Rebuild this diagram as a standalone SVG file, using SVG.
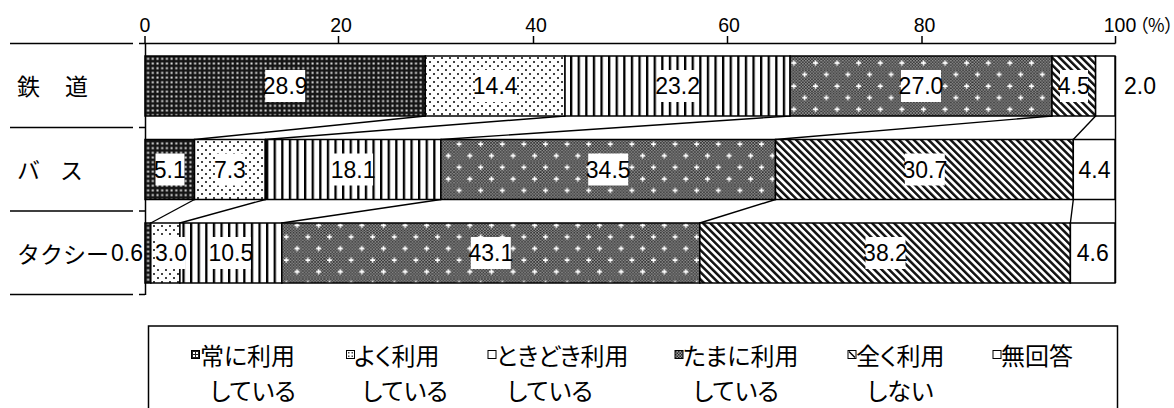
<svg xmlns="http://www.w3.org/2000/svg" width="1174" height="408" viewBox="0 0 1174 408">
<style>
.num{font-family:"Liberation Sans Narrow","Liberation Sans",Arial,sans-serif;font-size:23px;text-anchor:middle;fill:#000}
.ax{font-family:"Liberation Sans",Arial,sans-serif;font-size:19.5px;text-anchor:middle;fill:#000}
.cat{font-family:"Noto Sans CJK JP",sans-serif;font-size:23px;fill:#000}
.lg{font-family:"Noto Sans CJK JP",sans-serif;font-size:24px;fill:#000;font-feature-settings:"palt"}
.bar rect.seg{stroke:#000;stroke-width:1.5}
.box{fill:#fff}
.ln{stroke:#000;stroke-width:1.5;fill:none}
.conn line{stroke:#000;stroke-width:1.4}
.mk{stroke:#000;stroke-width:1}
</style>
<defs>
<pattern id="p1" width="4.7" height="4.7" patternUnits="userSpaceOnUse">
<rect width="4.7" height="4.7" fill="#151515"/><rect x="1.4" y="1.4" width="2" height="2" fill="#e0e0e0"/>
</pattern>
<pattern id="p2" width="8" height="8" patternUnits="userSpaceOnUse">
<rect width="8" height="8" fill="#fff"/><rect x="1" y="1" width="2" height="2" fill="#444"/><rect x="5" y="5" width="2" height="2" fill="#444"/>
</pattern>
<pattern id="p3" width="7.6" height="10" patternUnits="userSpaceOnUse">
<rect width="7.6" height="10" fill="#fff"/><rect x="0" y="0" width="2.3" height="10" fill="#000"/>
</pattern>
<pattern id="p4b" width="3" height="3" patternUnits="userSpaceOnUse">
<rect width="3" height="3" fill="#9a9a9a"/><rect width="1.5" height="1.5" fill="#2a2a2a"/><rect x="1.5" y="1.5" width="1.5" height="1.5" fill="#2a2a2a"/>
</pattern>
<pattern id="p4" width="21.6" height="23.2" patternUnits="userSpaceOnUse">
<rect width="21.6" height="23.2" fill="url(#p4b)"/>
<path d="M3 5h5M5.5 2.5v5M13.8 16.6h5M16.3 14.1v5" stroke="#fff" stroke-width="1.6"/>
</pattern>
<pattern id="p5" width="5.2" height="10" patternUnits="userSpaceOnUse" patternTransform="rotate(-45)">
<rect width="5.2" height="10" fill="#fff"/><rect x="0" y="0" width="2.5" height="10" fill="#111"/>
</pattern>
</defs>
<rect width="1174" height="408" fill="#fff"/>

<g id="axes">
<line class="ln" x1="145" y1="43.5" x2="1115.5" y2="43.5"/>
<line class="ln" x1="145.5" y1="43" x2="145.5" y2="295"/>
<path class="ln" d="M145 36V43.5M338.5 36V43.5M533.5 36V43.5M727.5 36V43.5M922 36V43.5M1115.5 36V43.5"/>
<path class="ln" d="M139 43.5H145M139 127.5H145M139 211H145M139 294.5H145"/>
<path class="ln" d="M10 43.5H133M10 127.5H133M10 211H133M10 294.5H133" stroke-width="2"/>
<text class="ax" x="145" y="32.3">0</text>
<text class="ax" x="341" y="32.3">20</text>
<text class="ax" x="536" y="32.3">40</text>
<text class="ax" x="729" y="32.3">60</text>
<text class="ax" x="924.5" y="32.3">80</text>
<text class="ax" x="1120" y="32.3">100</text>
<text x="1139" y="31.5" style="font-family:'Noto Sans CJK JP',sans-serif;font-size:18px;font-feature-settings:'palt'">（%）</text>
<line class="ln" x1="1115.5" y1="56" x2="1115.5" y2="283"/>
</g>

<g id="cat-labels">
<text class="cat" x="17 41 65" y="94.5">鉄　道</text>
<text class="cat" x="17 38 60" y="178.5">バ　ス</text>
<text class="cat" x="17 40 63 86" y="262.5">タクシー</text>
</g>

<g id="connectors" class="conn">
<line x1="425.3" y1="116" x2="194.5" y2="139.5"/>
<line x1="565" y1="116" x2="265.3" y2="139.5"/>
<line x1="790.1" y1="116" x2="440.9" y2="139.5"/>
<line x1="1052" y1="116" x2="775.5" y2="139.5"/>
<line x1="1095.6" y1="116" x2="1073.3" y2="139.5"/>
<line x1="194.5" y1="199.5" x2="150.8" y2="223"/>
<line x1="265.3" y1="199.5" x2="179.9" y2="223"/>
<line x1="440.9" y1="199.5" x2="281.8" y2="223"/>
<line x1="775.5" y1="199.5" x2="699.8" y2="223"/>
<line x1="1073.3" y1="199.5" x2="1070.4" y2="223"/>
</g>

<g id="bar-rail" class="bar">
<rect class="seg" x="145" y="56" width="280.3" height="60" fill="url(#p1)"/>
<rect class="seg" x="425.3" y="56" width="139.7" height="60" fill="url(#p2)"/>
<rect class="seg" x="565" y="56" width="225.1" height="60" fill="url(#p3)"/>
<rect class="seg" x="790.1" y="56" width="261.9" height="60" fill="url(#p4)"/>
<rect class="seg" x="1052" y="56" width="43.6" height="60" fill="url(#p5)"/>
<rect class="seg" x="1095.6" y="56" width="19.4" height="60" fill="#fff"/>
<rect class="box" x="265.2" y="70" width="40" height="32"/><text class="num" x="285.2" y="94">28.9</text>
<rect class="box" x="475.2" y="70" width="40" height="32"/><text class="num" x="495.2" y="94">14.4</text>
<rect class="box" x="657.6" y="70" width="40" height="32"/><text class="num" x="677.6" y="94">23.2</text>
<rect class="box" x="901" y="70" width="40" height="32"/><text class="num" x="921" y="94">27.0</text>
<rect class="box" x="1060" y="70" width="28" height="32"/><text class="num" x="1073.8" y="94">4.5</text>
<text class="num" x="1140" y="94">2.0</text>
</g>

<g id="bar-bus" class="bar">
<rect class="seg" x="145" y="139.5" width="49.5" height="60" fill="url(#p1)"/>
<rect class="seg" x="194.5" y="139.5" width="70.8" height="60" fill="url(#p2)"/>
<rect class="seg" x="265.3" y="139.5" width="175.6" height="60" fill="url(#p3)"/>
<rect class="seg" x="440.9" y="139.5" width="334.6" height="60" fill="url(#p4)"/>
<rect class="seg" x="775.5" y="139.5" width="297.8" height="60" fill="url(#p5)"/>
<rect class="seg" x="1073.3" y="139.5" width="41.7" height="60" fill="#fff"/>
<rect class="box" x="155.5" y="153.5" width="29" height="32"/><text class="num" x="169.8" y="177.5">5.1</text>
<rect class="box" x="215.5" y="153.5" width="29" height="32"/><text class="num" x="229.9" y="177.5">7.3</text>
<rect class="box" x="333.1" y="153.5" width="40" height="32"/><text class="num" x="353.1" y="177.5">18.1</text>
<rect class="box" x="588.2" y="153.5" width="40" height="32"/><text class="num" x="608.2" y="177.5">34.5</text>
<rect class="box" x="904.8" y="153.5" width="40" height="32"/><text class="num" x="924.8" y="177.5">30.7</text>
<text class="num" x="1094.5" y="177.5">4.4</text>
</g>

<g id="bar-taxi" class="bar">
<rect class="seg" x="145" y="223" width="5.8" height="60" fill="url(#p1)"/>
<rect class="seg" x="150.8" y="223" width="29.1" height="60" fill="url(#p2)"/>
<rect class="seg" x="179.9" y="223" width="101.9" height="60" fill="url(#p3)"/>
<rect class="seg" x="281.8" y="223" width="418" height="60" fill="url(#p4)"/>
<rect class="seg" x="699.8" y="223" width="370.6" height="60" fill="url(#p5)"/>
<rect class="seg" x="1070.4" y="223" width="44.6" height="60" fill="#fff"/>
<text class="num" x="127" y="261">0.6</text>
<rect class="box" x="156.5" y="237" width="29" height="32"/><text class="num" x="171" y="261">3.0</text>
<rect class="box" x="210.8" y="237" width="40" height="32"/><text class="num" x="230.8" y="261">10.5</text>
<rect class="box" x="470.8" y="237" width="40" height="32"/><text class="num" x="490.8" y="261">43.1</text>
<rect class="box" x="865.5" y="237" width="40" height="32"/><text class="num" x="885.5" y="261">38.2</text>
<text class="num" x="1092.7" y="261">4.6</text>
</g>

<g id="legend">
<rect x="148.5" y="326" width="969" height="100" fill="#fff" stroke="#000" stroke-width="1.5"/>
<g id="lg1">
<rect class="mk" x="191.5" y="350.5" width="8" height="8" fill="#222"/>
<rect x="193" y="352" width="2" height="2" fill="#fff"/><rect x="196" y="352" width="2" height="2" fill="#fff"/><rect x="193" y="355" width="2" height="2" fill="#fff"/><rect x="196" y="355" width="2" height="2" fill="#fff"/>
<text class="lg" x="200" y="365">常に利用</text><text class="lg" x="210" y="400">している</text>
</g>
<g id="lg2">
<rect class="mk" x="346.5" y="350.5" width="8" height="8" fill="#fff"/>
<rect x="348" y="352" width="1.5" height="1.5" fill="#444"/><rect x="351.5" y="355.5" width="1.5" height="1.5" fill="#444"/><rect x="351.5" y="352" width="1.5" height="1.5" fill="#444"/><rect x="348" y="355.5" width="1.5" height="1.5" fill="#444"/>
<text class="lg" x="354" y="365">よく利用</text><text class="lg" x="362" y="400">している</text>
</g>
<g id="lg3">
<rect class="mk" x="488" y="350.5" width="8" height="8" fill="#fff"/>
<text class="lg" x="496" y="365">ときどき利用</text><text class="lg" x="507" y="400">している</text>
</g>
<g id="lg4">
<rect class="mk" x="675" y="350.5" width="8" height="8" fill="url(#p4b)"/>
<text class="lg" x="683" y="365">たまに利用</text><text class="lg" x="693" y="400">している</text>
</g>
<g id="lg5">
<rect class="mk" x="848" y="350.5" width="8" height="8" fill="#fff"/>
<line x1="849" y1="351.5" x2="855" y2="357.5" stroke="#000" stroke-width="1.5"/>
<text class="lg" x="856" y="365">全く利用</text><text class="lg" x="867" y="400">しない</text>
</g>
<g id="lg6">
<rect class="mk" x="993" y="350.5" width="8" height="8" fill="#fff"/>
<text class="lg" x="1001" y="365">無回答</text>
</g>
</g>
</svg>
